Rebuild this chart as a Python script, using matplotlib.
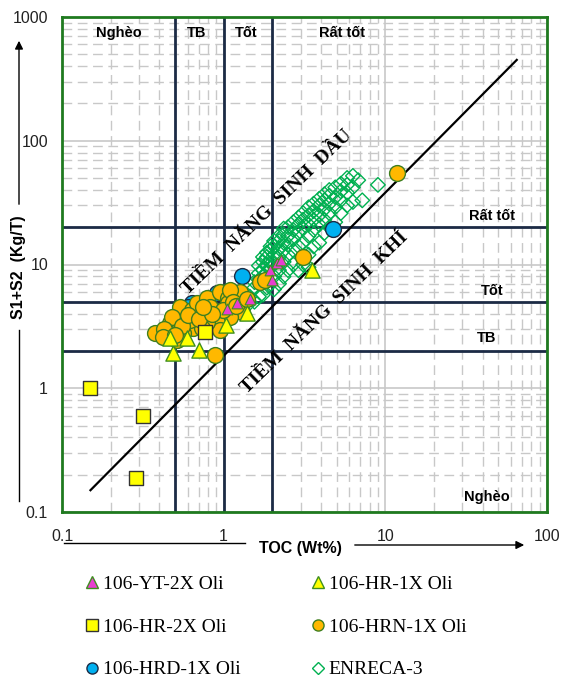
import matplotlib.pyplot as plt
from matplotlib.lines import Line2D

# --- data (TOC wt%, S1+S2 kg/T) ---
yt2x_toc = [1.21, 1.93, 2.14, 1.99, 2.25, 1.45, 1.05]
yt2x_s = [4.9, 9.0, 10.3, 7.5, 10.8, 5.3, 4.4]

hr1x_toc = [0.486, 0.703, 0.465, 0.593, 1.03, 1.39, 3.52]
hr1x_s = [1.93, 2.04, 2.55, 2.55, 3.24, 4.06, 9.04]

hr2x_toc = [0.149, 0.317, 0.287, 0.766]
hr2x_s = [1.0, 0.6, 0.19, 2.85]

hrn1x_toc = [0.376, 0.486, 0.465, 0.537, 0.537, 0.637, 0.684, 0.789, 0.823, 0.948,
             1.06, 1.06, 1.26, 1.30, 1.09, 0.91, 0.948, 0.646, 0.56, 0.514,
             0.446, 0.789, 0.734, 0.619, 0.479, 0.99, 1.09, 0.88, 11.8, 3.09,
             1.67, 0.43, 0.55, 0.60, 0.70, 0.85, 0.75, 1.15, 1.20, 0.42,
             0.50, 1.39, 1.80]
hrn1x_s = [2.79, 3.07, 3.37, 3.76, 4.54, 4.29, 4.89, 5.36, 4.54, 6.0,
           5.36, 4.89, 6.0, 4.13, 3.76, 3.43, 2.96, 3.07, 2.79, 2.45,
           2.85, 3.43, 3.07, 3.56, 3.76, 4.29, 6.22, 1.86, 54.8, 11.5,
           7.2, 3.0, 3.2, 3.9, 3.6, 4.0, 4.5, 5.0, 4.6, 2.6,
           2.7, 5.3, 7.5]

hrd1x_toc = [1.30, 4.74, 0.637, 0.60, 0.91]
hrd1x_s = [8.07, 19.4, 4.89, 4.54, 5.9]

enreca_toc = [1.45, 1.45,
              1.55, 1.55, 1.55,
              1.65, 1.65, 1.65, 1.65,
              1.75, 1.75, 1.75, 1.75, 1.75,
              1.85, 1.85, 1.85, 1.85, 1.85,
              1.95, 1.95, 1.95, 1.95, 1.95,
              2.05, 2.05, 2.05, 2.05, 2.05, 2.05,
              2.2, 2.2, 2.2, 2.2, 2.2, 2.2,
              2.35, 2.35, 2.35, 2.35, 2.35, 2.35,
              2.5, 2.5, 2.5, 2.5, 2.5,
              2.7, 2.7, 2.7, 2.7, 2.7,
              2.9, 2.9, 2.9, 2.9, 2.9,
              3.1, 3.1, 3.1, 3.1, 3.1,
              3.35, 3.35, 3.35, 3.35, 3.35, 3.35,
              3.6, 3.6, 3.6, 3.6, 3.6,
              3.9, 3.9, 3.9, 3.9, 3.9,
              4.2, 4.2, 4.2, 4.2, 4.2,
              4.5, 4.5, 4.5, 4.5, 4.5,
              4.9, 4.9, 4.9, 4.9,
              5.3, 5.3, 5.3, 5.3,
              5.8, 5.8, 5.8, 5.8,
              6.3, 6.3, 6.3,
              7.2, 9.0, 6.8]
enreca_s = [4.9, 5.5,
            5.0, 6.5, 7.2,
            5.5, 7.5, 8.5, 9.8,
            5.7, 8.0, 9.0, 10.5, 11.5,
            6.5, 8.5, 10.0, 11.5, 12.5,
            7.0, 9.5, 11.0, 13.0, 14.0,
            6.3, 8.0, 10.0, 12.0, 14.0, 15.5,
            7.0, 9.0, 11.5, 13.5, 15.5, 17.0,
            8.0, 10.5, 13.0, 15.0, 17.5, 19.5,
            9.0, 12.0, 14.5, 17.0, 20.0,
            10.0, 13.0, 16.0, 19.0, 22.0,
            9.0, 14.0, 18.0, 21.0, 24.0,
            10.0, 15.0, 19.5, 23.0, 26.0,
            9.5, 12.0, 17.0, 21.0, 25.0, 29.0,
            14.0, 19.0, 23.0, 27.0, 31.0,
            15.0, 21.0, 25.0, 30.0, 34.0,
            18.0, 23.0, 28.0, 33.0, 37.0,
            20.0, 26.0, 31.0, 36.0, 40.0,
            22.0, 29.0, 35.0, 42.0,
            26.0, 33.0, 39.0, 45.0,
            30.0, 38.0, 44.0, 50.0,
            32.0, 42.0, 52.0,
            33.0, 44.0, 48.0]

line_toc = [0.15, 65]
line_s = [0.15, 450]

toc_bounds = [0.5, 1, 2]
s_bounds = [2, 5, 20]

x_ticks = [0.1, 1, 10, 100]
x_ticklabels = ['0.1', '1', '10', '100']
y_ticks = [0.1, 1, 10, 100, 1000]
y_ticklabels = ['0.1', '1', '10', '100', '1000']

sans = 'Liberation Sans'
serif = 'Liberation Serif'

fig = plt.figure(figsize=(5.64, 6.79), dpi=100)
ax = fig.add_axes([62 / 564, 1 - 512 / 679, 485 / 564, 495 / 679])
ax.set_xscale('log')
ax.set_yscale('log')
ax.set_xlim(0.1, 100)
ax.set_ylim(0.1, 1000)

ax.grid(True, which='major', color='#c8c8c8', lw=1.2, ls='-', zorder=0)
ax.grid(True, which='minor', color='#c8c8c8', lw=1.0, ls=(0, (7, 4)), zorder=0)
ax.set_axisbelow(True)

for v in toc_bounds:
    ax.axvline(v, color='#1c2b45', lw=2, zorder=1)
for v in s_bounds:
    ax.axhline(v, color='#1c2b45', lw=2, zorder=1)

ax.plot(line_toc, line_s, color='black', lw=1.6, zorder=2)

ax.scatter(enreca_toc, enreca_s, marker='D', s=55, facecolors='none',
           edgecolors='#00b050', linewidths=1.0, zorder=3)
ax.scatter(hrd1x_toc, hrd1x_s, marker='o', s=130, color='#00b0f0',
           edgecolors='#1c2b45', linewidths=1.0, zorder=4)
ax.scatter(hrn1x_toc, hrn1x_s, marker='o', s=130, color='#ffb800',
           edgecolors='#3f7f1f', linewidths=1.0, zorder=5)
ax.scatter(hr1x_toc, hr1x_s, marker='^', s=120, color='#ffff00',
           edgecolors='#3f8f1f', linewidths=1.0, zorder=6)
ax.scatter(hr2x_toc, hr2x_s, marker='s', s=110, color='#ffff00',
           edgecolors='#333333', linewidths=1.0, zorder=6)
ax.scatter(yt2x_toc, yt2x_s, marker='^', s=60, color='#e83ed0',
           edgecolors='#3f8f1f', linewidths=0.8, zorder=7)

for sp in ax.spines.values():
    sp.set_color('#1f7a1f')
    sp.set_linewidth(2)

ax.set_xticks(x_ticks)
ax.set_xticklabels(x_ticklabels)
ax.set_yticks(y_ticks)
ax.set_yticklabels(y_ticklabels)
ax.minorticks_on()
ax.tick_params(which='both', length=0)
ax.tick_params(axis='x', pad=12, labelsize=11.5, labelcolor='#222222')
ax.tick_params(axis='y', pad=10, labelsize=11.5, labelcolor='#222222')
for lab in ax.get_xticklabels() + ax.get_yticklabels():
    lab.set_fontfamily(sans)
ax.xaxis.set_minor_formatter(plt.NullFormatter())
ax.yaxis.set_minor_formatter(plt.NullFormatter())

# zone labels
zone = dict(fontsize=10.5, fontweight='bold', family=sans, ha='center', va='center', zorder=8)
ax.text(0.225, 740, 'Nghèo', **zone)
ax.text(0.684, 740, 'TB', **zone)
ax.text(1.37, 740, 'Tốt', **zone)
ax.text(5.4, 740, 'Rất tốt', **zone)
ax.text(46, 24.7, 'Rất tốt', **zone)
ax.text(46, 6.1, 'Tốt', **zone)
ax.text(42, 2.55, 'TB', **zone)
ax.text(42.5, 0.132, 'Nghèo', **zone)

diag = dict(fontsize=14, fontweight='bold', family=serif, ha='center', va='center',
            rotation=44, rotation_mode='anchor', zorder=8)
ax.text(1.85, 26.5, 'TIỀM  NĂNG  SINH  DẦU', **diag)
ax.text(4.23, 4.06, 'TIỀM  NĂNG  SINH  KHÍ', **diag)

# axis titles with arrows
W, H = 564, 679
fig.text(300 / W, 1 - 548 / H, 'TOC (Wt%)', fontsize=11.5, fontweight='bold',
         family=sans, ha='center', va='center')
fig.add_artist(Line2D([64 / W, 245 / W], [1 - 543 / H, 1 - 543 / H], color='black', lw=1))
ax.annotate('', xy=(527 / W, 1 - 545 / H), xytext=(352 / W, 1 - 545 / H),
            xycoords='figure fraction', textcoords='figure fraction',
            arrowprops=dict(arrowstyle='-|>', color='black', lw=1, mutation_scale=12))

fig.text(19 / W, 1 - 267 / H, 'S1+S2  (Kg/T)', fontsize=11.5, fontweight='bold',
         family=sans, ha='center', va='center', rotation=90)
fig.add_artist(Line2D([19 / W, 19 / W], [1 - 330 / H, 1 - 501 / H], color='black', lw=1))
ax.annotate('', xy=(19 / W, 1 - 38 / H), xytext=(19 / W, 1 - 207 / H),
            xycoords='figure fraction', textcoords='figure fraction',
            arrowprops=dict(arrowstyle='-|>', color='black', lw=1, mutation_scale=12))

# legend
handles = [
    Line2D([], [], ls='none', marker='^', ms=8, mfc='#e83ed0', mec='#3f8f1f', label='106-YT-2X Oli'),
    Line2D([], [], ls='none', marker='s', ms=8, mfc='#ffff00', mec='#333333', label='106-HR-2X Oli'),
    Line2D([], [], ls='none', marker='o', ms=8, mfc='#00b0f0', mec='#1c2b45', label='106-HRD-1X Oli'),
    Line2D([], [], ls='none', marker='^', ms=8, mfc='#ffff00', mec='#3f8f1f', label='106-HR-1X Oli'),
    Line2D([], [], ls='none', marker='o', ms=8, mfc='#ffb800', mec='#3f7f1f', label='106-HRN-1X Oli'),
    Line2D([], [], ls='none', marker='D', ms=6, mfc='none', mec='#00b050', label='ENRECA-3'),
]
fig.legend(handles=handles, ncol=2, loc='upper left', bbox_to_anchor=(86 / W, 1 - 575 / H),
           frameon=False, prop={'family': serif, 'size': 14}, handlelength=0.6,
           handletextpad=0.25, columnspacing=3.7, labelspacing=1.3, borderpad=0,
           borderaxespad=0)

fig.savefig('out.png', dpi=100)
